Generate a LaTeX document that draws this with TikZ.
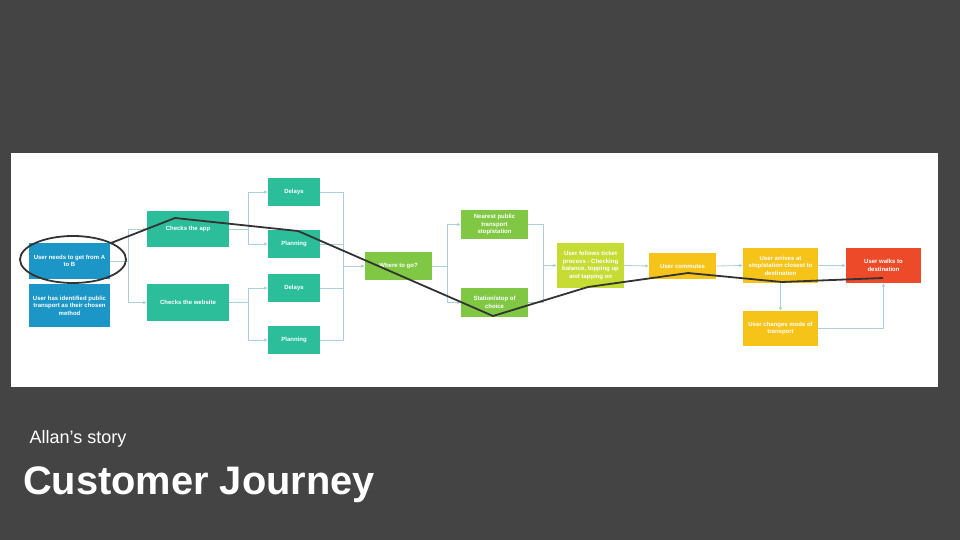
\documentclass[tikz,border=0pt]{standalone}
\usepackage{fontspec}
\setmainfont{Liberation Sans}
\usetikzlibrary{arrows.meta}
\hyphenpenalty=10000
\exhyphenpenalty=10000
\definecolor{bgc}{HTML}{444444}
\definecolor{cblue}{RGB}{27,150,198}
\definecolor{cteal}{RGB}{44,190,155}
\definecolor{cgreen}{RGB}{128,200,68}
\definecolor{clime}{RGB}{198,220,52}
\definecolor{cyel}{RGB}{246,195,25}
\definecolor{cred}{RGB}{237,74,42}
\definecolor{cconn}{RGB}{172,206,216}
\definecolor{cline}{HTML}{333333}
\tikzset{
  box/.style={draw=none, text=white, align=center, inner sep=1pt,
    font=\fontsize{6.0}{7.4}\selectfont\bfseries},
  conn/.style={draw=cconn, line width=0.8pt, -{Latex[length=3.5pt,width=3.5pt]}},
  connl/.style={draw=cconn, line width=0.8pt},
  journey/.style={draw=cline, line width=1.8pt, line join=round},
}
\begin{document}
\begin{tikzpicture}[x=1pt,y=-1pt]
\useasboundingbox (0,0) rectangle (960,540);
\fill[bgc] (0,0) rectangle (960,540);
\fill[white] (11,153) rectangle (938,387);

% blue
\node[box, fill=cblue, minimum width=81, minimum height=36] (u1) at (69.5,261) {User needs to get from A\\to B};
\node[box, fill=cblue, minimum width=81, minimum height=43] (u2) at (69.5,305.5) {User has identified public\\transport as their chosen\\method};
% teal
\node[box, fill=cteal, minimum width=82, minimum height=36] (app) at (188,229) {Checks the app};
\node[box, fill=cteal, minimum width=82, minimum height=37] (web) at (188,302.5) {Checks the website};
\node[box, fill=cteal, minimum width=52, minimum height=28] (d1) at (294,192) {Delays};
\node[box, fill=cteal, minimum width=52, minimum height=28] (p1) at (294,244) {Planning};
\node[box, fill=cteal, minimum width=52, minimum height=28] (d2) at (294,288) {Delays};
\node[box, fill=cteal, minimum width=52, minimum height=28] (p2) at (294,340) {Planning};
% green
\node[box, fill=cgreen, minimum width=67, minimum height=28] (where) at (398.5,266) {Where to go?};
\node[box, fill=cgreen, minimum width=67, minimum height=29] (near) at (494.5,224.5) {Nearest public\\transport\\stop/station};
\node[box, fill=cgreen, minimum width=67, minimum height=29] (stat) at (494.5,302.5) {Station/stop of\\choice};
\node[box, fill=clime, minimum width=67, minimum height=45] (follow) at (590.5,265.5) {User follows ticket\\process - Checking\\balance, topping up\\and tapping on};
% yellow
\node[box, fill=cyel, minimum width=67, minimum height=26] (comm) at (682.5,266) {User commutes};
\node[box, fill=cyel, minimum width=75, minimum height=35] (arr) at (780.5,265.5) {User arrives at\\stop/station closest to\\destination};
\node[box, fill=cyel, minimum width=75, minimum height=35] (chg) at (780.5,328.5) {User changes mode of\\transport};
\node[box, fill=cred, minimum width=75, minimum height=35] (walk) at (883.5,265.5) {User walks to\\destination};

% connectors
\draw[conn] (u1.east) -- +(18,0) |- (app.west);
\draw[conn] (u1.east) -- +(18,0) |- (web.west);
\draw[conn] (app.east) -- +(19,0) |- (d1.west);
\draw[conn] (app.east) -- +(19,0) |- (p1.west);
\draw[conn] (web.east) -- +(19,0) |- (d2.west);
\draw[conn] (web.east) -- +(19,0) |- (p2.west);
\coordinate (m1) at (343,266);
\draw[connl] (d1.east) -| (m1);
\draw[connl] (p2.east) -| (m1);
\draw[connl] (p1.east) -- (p1.east -| m1);
\draw[connl] (d2.east) -- (d2.east -| m1);
\draw[conn] (m1) -- (where.west);
\draw[conn] (where.east) -- +(15,0) |- (near.west);
\draw[conn] (where.east) -- +(15,0) |- (stat.west);
\coordinate (m2) at (543,265.5);
\draw[connl] (near.east) -| (m2);
\draw[connl] (stat.east) -| (m2);
\draw[conn] (m2) -- (follow.west);
\draw[conn] (follow.east) -- (comm.west);
\draw[conn] (comm.east) -- (arr.west);
\draw[conn] (arr.east) -- (walk.west);
\draw[conn] (arr.south) -- (chg.north);
\draw[conn] (chg.east) -| (walk.south);

% journey annotation
\draw[cline, line width=1.8pt] (73,259.5) ellipse [x radius=53, y radius=23.5];
\draw[journey] (111,243) -- (175,218) -- (298,231) -- (493,316) -- (588,287) -- (688,273) -- (782,282) -- (883,278);

% titles
\node[anchor=base west, text=white, font=\fontsize{18}{20}\selectfont, inner sep=0] (sub) at (29.5,443) {Allan’s story};
\node[anchor=base west, text=white, font=\fontsize{39.8}{42}\selectfont\bfseries, inner sep=0] (title) at (23,494) {Customer Journey};
\end{tikzpicture}
\end{document}
